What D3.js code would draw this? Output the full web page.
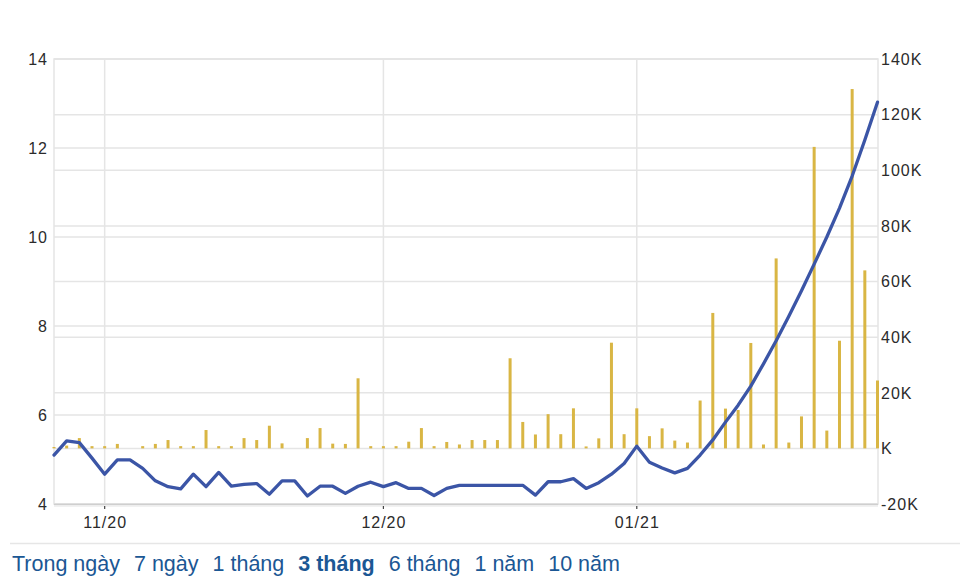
<!DOCTYPE html>
<html>
<head>
<meta charset="utf-8">
<script src="https://cdn.jsdelivr.net/npm/d3@7"></script>
<style>
  html, body { margin: 0; padding: 0; background: #fff; }
  svg { display: block; }
</style>
</head>
<body>
<svg id="chart" width="960" height="581"></svg>
<script>
// ---------------- DATA ----------------
// trading-day index (0..65), one entry per session
const prices = [
  5.10, 5.42, 5.38, 5.03, 4.67, 4.99, 4.99, 4.80, 4.52, 4.39,
  4.34, 4.67, 4.39, 4.71, 4.40, 4.44, 4.46, 4.22, 4.52, 4.52,
  4.18, 4.40, 4.40, 4.24, 4.40, 4.49, 4.39, 4.48, 4.35, 4.35,
  4.19, 4.35, 4.42, 4.42, 4.42, 4.42, 4.42, 4.42, 4.20, 4.50,
  4.50, 4.57, 4.35, 4.48, 4.67, 4.91, 5.30, 4.94, 4.81, 4.70,
  4.80, 5.10, 5.44, 5.84, 6.22, 6.65, 7.15, 7.67, 8.22, 8.79,
  9.39, 10.00, 10.65, 11.37, 12.18, 13.03
];
const volumes = [
  500, 1000, 3700, 800, 800, 1600, 0, 800, 1600, 3000,
  800, 800, 6600, 800, 800, 3700, 3000, 8150, 1800, 0,
  3700, 7300, 1700, 1600, 25200, 800, 800, 800, 2400, 7300,
  800, 2300, 1400, 3000, 3000, 3000, 32400, 9500, 5000, 12300,
  5100, 14400, 700, 3600, 38000, 5100, 14400, 4400, 7200, 2800,
  2100, 17200, 48700, 14300, 13800, 37900, 1400, 68300, 2100, 11500,
  108400, 6400, 38700, 129200, 64000, 24400
];
const xTickIndex = [4, 26, 46];
const xTickLabels = ["11/20", "12/20", "01/21"];
const priceTicks = [4, 6, 8, 10, 12, 14];
const volumeTicks = [-20000, 0, 20000, 40000, 60000, 80000, 100000, 120000, 140000];
const periodLabels = ["Trong ngày", "7 ngày", "1 tháng", "3 tháng", "6 tháng", "1 năm", "10 năm"];
const activePeriod = "3 tháng";

// ---------------- LAYOUT ----------------
const L = 54, R = 878, T = 59, B = 504;
const svg = d3.select("#chart");

const x = d3.scaleLinear().domain([0, prices.length - 1]).range([L, R - 0.5]);
const yP = d3.scaleLinear().domain([4, 14]).range([B, T]);
const yV = d3.scaleLinear().domain([-20000, 140000]).range([B, T]);

const gridColor = "#e5e5e5";
const labelFont = "'Liberation Sans', Arial, sans-serif";
const labelSize = 16;
const labelSpacing = "1px";

// plot background / border
svg.append("rect").attr("x", L).attr("y", T).attr("width", R - L).attr("height", B - T)
  .attr("fill", "#fff").attr("stroke", gridColor).attr("stroke-width", 1.5);

// horizontal gridlines (left axis)
svg.append("g").selectAll("line").data(priceTicks).join("line")
  .attr("x1", L).attr("x2", R).attr("y1", d => yP(d)).attr("y2", d => yP(d))
  .attr("stroke", gridColor).attr("stroke-width", 1.5);
// horizontal gridlines (right axis)
svg.append("g").selectAll("line").data(volumeTicks).join("line")
  .attr("x1", L).attr("x2", R).attr("y1", d => yV(d)).attr("y2", d => yV(d))
  .attr("stroke", gridColor).attr("stroke-width", 1.5);
// vertical gridlines
svg.append("g").selectAll("line").data(xTickIndex).join("line")
  .attr("x1", d => x(d)).attr("x2", d => x(d)).attr("y1", T).attr("y2", B)
  .attr("stroke", gridColor).attr("stroke-width", 1.5);

// bottom axis line (slightly darker, with shadow)
svg.append("line").attr("x1", L).attr("x2", R).attr("y1", B + 0.5).attr("y2", B + 0.5)
  .attr("stroke", "#cfcfcf").attr("stroke-width", 1.5);
svg.append("line").attr("x1", L).attr("x2", R).attr("y1", B + 2).attr("y2", B + 2)
  .attr("stroke", "#ececec").attr("stroke-width", 1.5);

// x tick marks
svg.append("g").selectAll("line").data(xTickIndex).join("line")
  .attr("x1", d => x(d)).attr("x2", d => x(d)).attr("y1", B + 2).attr("y2", B + 5)
  .attr("stroke", "#444").attr("stroke-width", 1.2);

// volume bars
const barW = 3;
svg.append("g").selectAll("rect").data(volumes).join("rect")
  .attr("x", (d, i) => x(i) - barW / 2)
  .attr("y", d => yV(d))
  .attr("width", barW)
  .attr("height", d => yV(0) - yV(d))
  .attr("fill", "#d9b644");

// price line
const line = d3.line().x((d, i) => x(i)).y(d => yP(d));
svg.append("path").datum(prices).attr("d", line)
  .attr("fill", "none").attr("stroke", "#3b55a6").attr("stroke-width", 3.3)
  .attr("stroke-linejoin", "round").attr("stroke-linecap", "round");

// left axis labels
svg.append("g").selectAll("text").data(priceTicks).join("text")
  .attr("x", 48).attr("y", d => yP(d)).attr("dy", "0.36em")
  .attr("text-anchor", "end")
  .attr("font-family", labelFont).attr("font-size", labelSize).attr("fill", "#2b2b2b")
  .attr("letter-spacing", labelSpacing)
  .text(d => d);

// right axis labels
const fmtK = d => (d === 0 ? "K" : (d / 1000) + "K");
svg.append("g").selectAll("text").data(volumeTicks).join("text")
  .attr("x", 881).attr("y", d => yV(d)).attr("dy", "0.36em")
  .attr("text-anchor", "start")
  .attr("font-family", labelFont).attr("font-size", labelSize).attr("fill", "#2b2b2b")
  .attr("letter-spacing", labelSpacing)
  .text(fmtK);

// x axis labels
svg.append("g").selectAll("text").data(xTickIndex).join("text")
  .attr("x", d => x(d) + 0.5).attr("y", 528)
  .attr("text-anchor", "middle")
  .attr("font-family", labelFont).attr("font-size", labelSize).attr("fill", "#2b2b2b")
  .attr("letter-spacing", labelSpacing)
  .text((d, i) => xTickLabels[i]);

// footer separator
svg.append("line").attr("x1", 10).attr("x2", 960).attr("y1", 543.5).attr("y2", 543.5)
  .attr("stroke", "#e6e6e6").attr("stroke-width", 1.5);

// footer period links
const footer = svg.append("text").attr("x", 12).attr("y", 571)
  .attr("font-family", "'Liberation Sans', Arial, sans-serif").attr("font-size", 21.5)
  .attr("fill", "#1b5794");
periodLabels.forEach((p, i) => {
  footer.append("tspan")
    .attr("dx", i === 0 ? 0 : 14)
    .attr("font-weight", p === activePeriod ? "bold" : "normal")
    .text(p);
});
</script>
</body>
</html>
